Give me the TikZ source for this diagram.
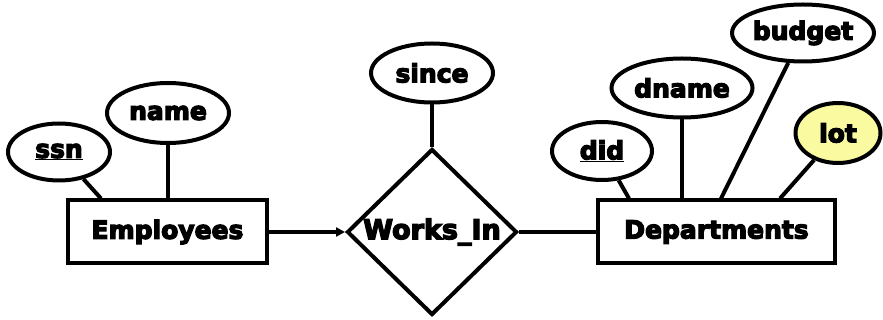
\documentclass[tikz,border=0pt]{standalone}
\usepackage{fontspec}
\newfontfamily\erfont{DejaVu Sans}[UprightFont={* Bold}, UprightFeatures={FakeBold=5}]
\usetikzlibrary{shapes.geometric,arrows.meta,backgrounds}
\definecolor{lotfill}{RGB}{250,250,160}
\tikzset{
  er/.style={font=\erfont\fontsize{25}{28}\selectfont, line width=4pt, draw=black, fill=white, inner sep=0pt},
  entity/.style={er, rectangle, minimum height=63pt},
  attr/.style={er, ellipse},
  rel/.style={er, diamond},
  link/.style={line width=4pt, black}
}
\newcommand{\keyattr}[1]{\underline{#1}}
\begin{document}
\begin{tikzpicture}[x=1pt,y=-1pt]
  \useasboundingbox (0,0) rectangle (883,320);
  % entities and relationship
  \node[entity, minimum width=199pt] (emp) at (167.5,232) {Employees};
  \node[entity, minimum width=237pt] (dept) at (716.5,232) {Departments};
  \node[rel, minimum width=170pt, minimum height=166pt, font=\erfont\fontsize{27}{30}\selectfont] (works) at (432,232) {Works\_In};
  % attributes
  \node[attr, minimum width=102pt, minimum height=57pt] (ssn) at (59,152) {\keyattr{ssn}};
  \node[attr, minimum width=122pt, minimum height=60pt] (name) at (168,113) {name};
  \node[attr, minimum width=122pt, minimum height=59pt] (since) at (432,73) {since};
  \node[attr, minimum width=100pt, minimum height=58pt] (did) at (602,151) {\keyattr{did}};
  \node[attr, minimum width=141pt, minimum height=59pt] (dname) at (682,88) {dname};
  \node[attr, minimum width=139pt, minimum height=57pt] (budget) at (803,33) {budget};
  \node[attr, fill=lotfill, minimum width=85pt, minimum height=60pt] (lot) at (838,133) {lot};
  % attachment points on the entity tops
  \coordinate (ssnfoot) at ([xshift=35pt]emp.north west);
  \coordinate (didfoot) at ([xshift=33pt]dept.north west);
  \coordinate (budgetfoot) at ([xshift=125pt]dept.north west);
  \coordinate (lotfoot) at ([xshift=184pt]dept.north west);
  \begin{scope}[on background layer]
    \draw[link] (ssn) -- (ssnfoot);
    \draw[link] (name) -- (name |- emp.north);
    \draw[link] (since) -- (works.north);
    \draw[link] (did) -- (didfoot);
    \draw[link] (dname) -- (dname |- dept.north);
    \draw[link] (budget) -- (budgetfoot);
    \draw[link] (lot) -- (lotfoot);
  \end{scope}
  % connectors between entities and relationship
  \draw[link, -{Triangle[length=9pt,width=9pt]}] (emp.east) -- (works.west);
  \draw[link] (works.east) -- (dept.west);
\end{tikzpicture}
\end{document}
